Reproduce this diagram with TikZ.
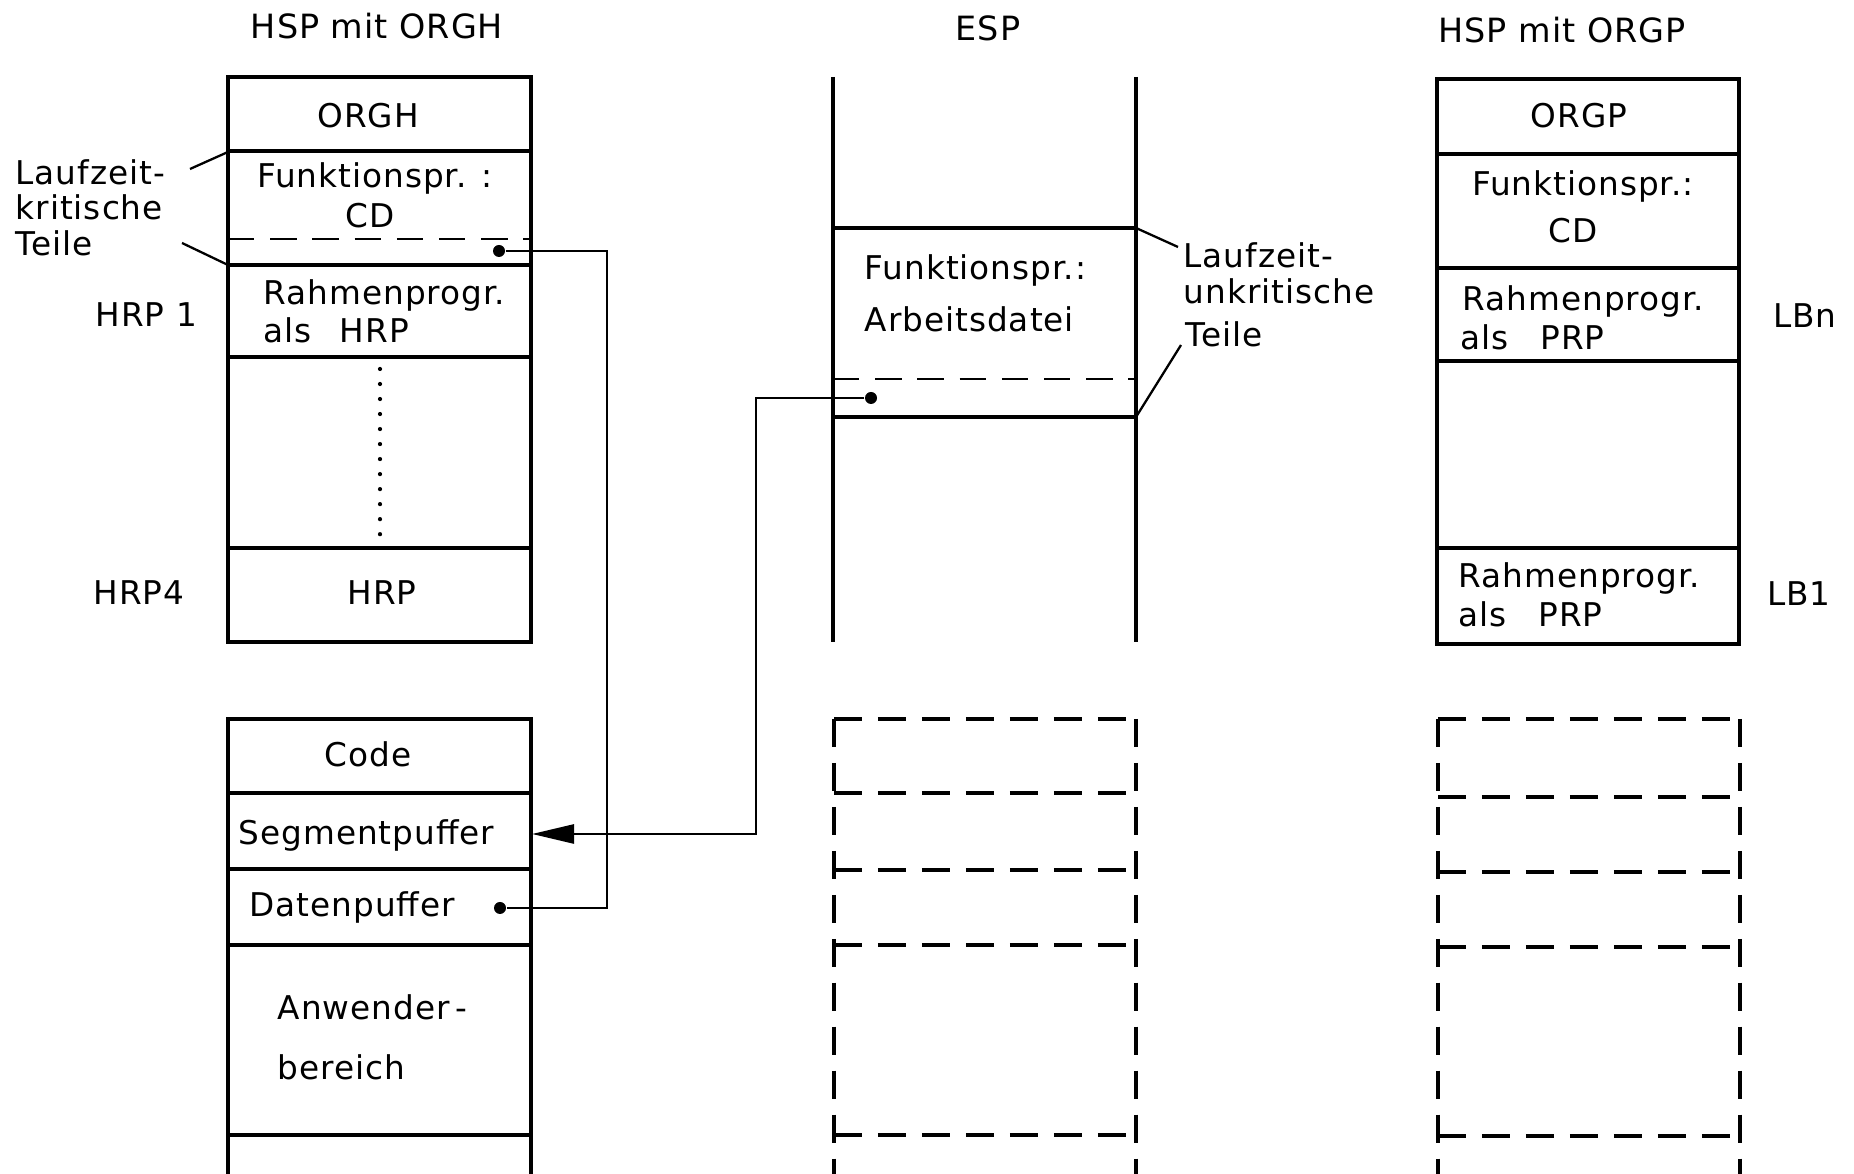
\documentclass[tikz,border=0pt]{standalone}
\usepackage{fontspec}
\setmainfont{DejaVu Sans}[LetterSpace=3]
\usetikzlibrary{arrows.meta}
\tikzset{
  box/.style={line width=1.1pt},
  dsh/.style={line width=1.1pt, dash pattern=on 8pt off 4.5pt},
  idsh/.style={line width=0.8pt, dash pattern=on 7.5pt off 4.5pt},
  conn/.style={line width=0.75pt},
  lead/.style={line width=0.65pt},
  dotline/.style={line width=1.2pt, line cap=round, dash pattern=on 0pt off 4.27pt},
  txt/.style={inner sep=0pt, font=\fontsize{9.3}{10}\selectfont},
  ttl/.style={inner sep=0pt, font=\fontsize{9.5}{11}\selectfont},
  dotnode/.style={circle, fill=black, inner sep=0pt, minimum size=0.12cm},
}
\begin{document}
\begin{tikzpicture}[x=0.01cm,y=-0.01cm]
\fill[white] (0,0) rectangle (1854,1174);
\useasboundingbox (0,0) rectangle (1854,1174);

% ---------------- left upper box: HSP mit ORGH
\draw[box] (228,77) rectangle (531,642);
\draw[box] (228,151) -- (531,151);
\draw[idsh] (228,239) -- (531,239);
\draw[box] (228,265) -- (531,265);
\draw[box] (228,357) -- (531,357);
\draw[box] (228,548) -- (531,548);
\draw[dotline] (380,369) -- (380,540);

\node[ttl, anchor=base] (tA) at (377,39) {HSP mit ORGH};
\node[txt, anchor=base] (tB) at (368,128) {ORGH};
\node[txt, anchor=base] (tC) at (375,188) {Funktionspr. :};
\node[txt, anchor=base] (tD) at (370,228) {CD};
\node[txt, anchor=base west] (tE) at (263,305) {Rahmenprogr.};
\node[txt, anchor=base west] (tF) at (263,343) {als\hspace{8pt}HRP};
\node[txt, anchor=base west] (tG) at (95,327) {HRP 1};
\node[txt, anchor=base west] (tH) at (15,185) {Laufzeit-};
\node[txt, anchor=base west] (tI) at (15,220) {kritische};
\node[txt, anchor=base west] (tJ) at (15,256) {Teile};
\node[txt, anchor=base west] (tK) at (93,605) {HRP4};
\node[txt, anchor=base] (tL) at (382,605) {HRP};

\coordinate (lk1) at (190,169);
\coordinate (lk1e) at (228,152);
\coordinate (lk2) at (182,243);
\coordinate (lk2e) at (228,265);
\draw[lead] (lk1) -- (lk1e);
\draw[lead] (lk2) -- (lk2e);

% ---------------- left lower box
\draw[box] (228,1174) -- (228,719) -- (531,719) -- (531,1174);
\draw[box] (228,793) -- (531,793);
\draw[box] (228,869) -- (531,869);
\draw[box] (228,945) -- (531,945);
\draw[box] (228,1135) -- (531,1135);

\node[txt, anchor=base] (tM) at (368,767) {Code};
\node[txt, anchor=base west] (tN) at (238,845) {Segmentpuffer};
\node[txt, anchor=base west] (tO) at (249,917) {Datenpuffer};
\node[txt, anchor=base west] (tP) at (277,1020) {Anwender\,-};
\node[txt, anchor=base west] (tQ) at (277,1080) {bereich};

% ---------------- middle: ESP
\draw[box] (833,77) -- (833,642);
\draw[box] (1136,77) -- (1136,642);
\draw[box] (833,228) -- (1136,228);
\draw[idsh] (833,379) -- (1136,379);
\draw[box] (833,417) -- (1136,417);

\node[ttl, anchor=base] (tR) at (988,41) {ESP};
\node[txt, anchor=base west] (tS) at (864,280) {Funktionspr.:};
\node[txt, anchor=base west] (tT) at (864,332) {Arbeitsdatei};
\node[txt, anchor=base west] (tU) at (1183,268) {Laufzeit-};
\node[txt, anchor=base west] (tV) at (1183,304) {unkritische};
\node[txt, anchor=base west] (tW) at (1185,347) {Teile};

\coordinate (mk1) at (1136,228);
\coordinate (mk1e) at (1178,247);
\coordinate (mk2) at (1136,417);
\coordinate (mk2e) at (1181,345);
\draw[lead] (mk1) -- (mk1e);
\draw[lead] (mk2) -- (mk2e);

% ---------------- middle lower dashed box
\draw[dsh] (834,719) -- (834,1174);
\draw[dsh] (1136,719) -- (1136,1174);
\draw[dsh] (834,719) -- (1136,719);
\draw[dsh] (834,793) -- (1136,793);
\draw[dsh] (834,870) -- (1136,870);
\draw[dsh] (834,945) -- (1136,945);
\draw[dsh] (834,1135) -- (1136,1135);

% ---------------- right upper box: HSP mit ORGP
\draw[box] (1437,79) rectangle (1739,644);
\draw[box] (1437,154) -- (1739,154);
\draw[box] (1437,268) -- (1739,268);
\draw[box] (1437,361) -- (1739,361);
\draw[box] (1437,548) -- (1739,548);

\node[ttl, anchor=base] (tX) at (1562,43) {HSP mit ORGP};
\node[txt, anchor=base] (tY) at (1579,128) {ORGP};
\node[txt, anchor=base] (tZ) at (1583,196) {Funktionspr.:};
\node[txt, anchor=base] (ta) at (1573,243) {CD};
\node[txt, anchor=base west] (tb) at (1462,311) {Rahmenprogr.};
\node[txt, anchor=base west] (tc) at (1460,350) {als\hspace{9pt}PRP};
\node[txt, anchor=base] (td) at (1805,328) {LBn};
\node[txt, anchor=base west] (te) at (1458,588) {Rahmenprogr.};
\node[txt, anchor=base west] (tf) at (1458,627) {als\hspace{9pt}PRP};
\node[txt, anchor=base] (tg) at (1799,606) {LB1};

% ---------------- right lower dashed box
\draw[dsh] (1438,719) -- (1438,1174);
\draw[dsh] (1740,719) -- (1740,1174);
\draw[dsh] (1438,719) -- (1740,719);
\draw[dsh] (1438,797) -- (1740,797);
\draw[dsh] (1438,872) -- (1740,872);
\draw[dsh] (1438,947) -- (1740,947);
\draw[dsh] (1438,1136) -- (1740,1136);

% ---------------- connectors
\node[dotnode] (d1) at (499,251) {};
\node[dotnode] (d2) at (500,908) {};
\node[dotnode] (d3) at (871,398) {};
\coordinate (c1) at (607,580);
\coordinate (c2) at (756,834);
\coordinate (segin) at (532,834);

\draw[conn] (d1) -| (c1) |- (d2);
\draw[conn, -{Triangle[length=4.2mm,width=1.9mm]}] (d3) -| (c2) -- (segin);
\end{tikzpicture}
\end{document}
